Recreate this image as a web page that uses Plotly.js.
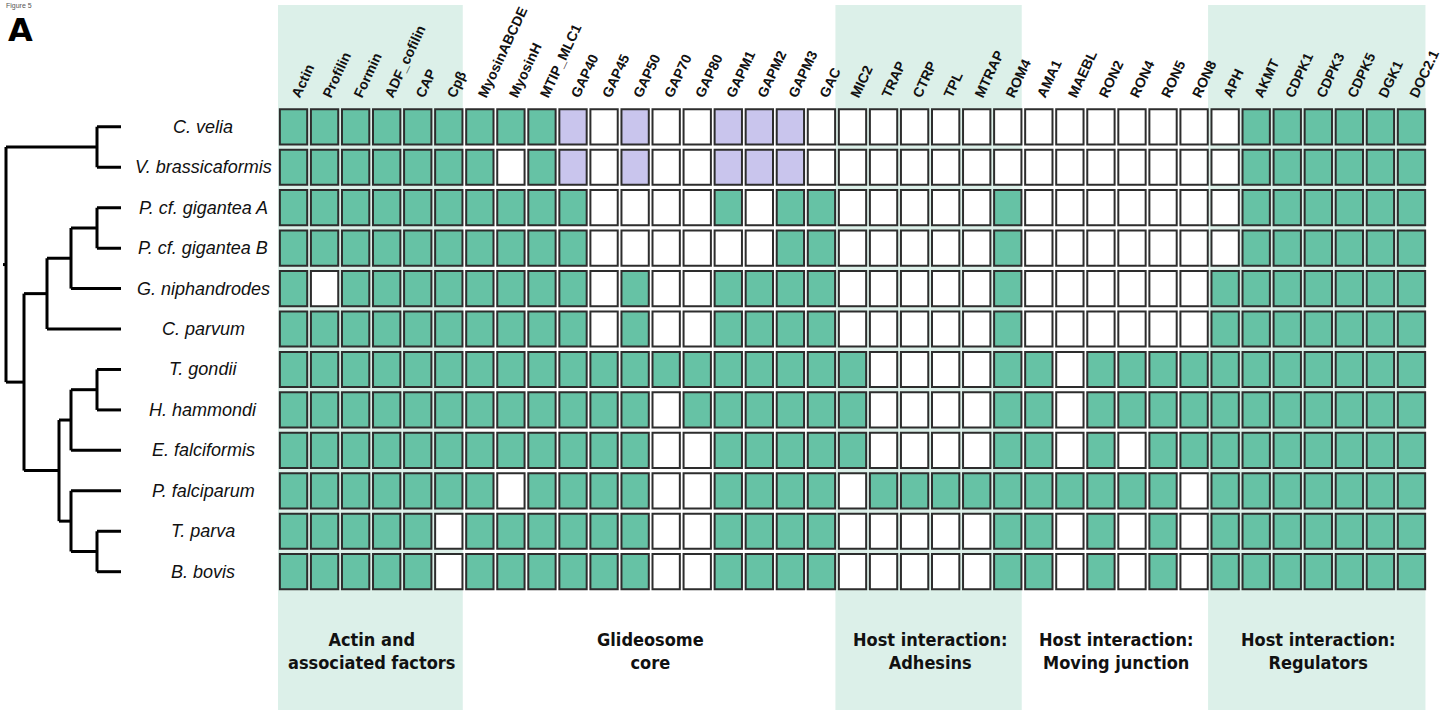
<!DOCTYPE html>
<html>
<head>
<meta charset="utf-8">
<script src="https://cdn.plot.ly/plotly-3.0.1.min.js"></script>
<style>html,body{margin:0;padding:0;background:#fff;}#chart{width:1445px;height:710px;}</style>
</head>
<body>
<div id="chart"></div>
<script>
// ---------------- DATA ----------------
const genes = ["Actin","Profilin","Formin","ADF_cofilin","CAP","Cpβ",
  "MyosinABCDE","MyosinH","MTIP_MLC1","GAP40","GAP45","GAP50","GAP70","GAP80","GAPM1","GAPM2","GAPM3","GAC",
  "MIC2","TRAP","CTRP","TPL","MTRAP","ROM4",
  "AMA1","MAEBL","RON2","RON4","RON5","RON8",
  "APH","AKMT","CDPK1","CDPK3","CDPK5","DGK1","DOC2.1"];

const species = ["C. velia","V. brassicaformis","P. cf. gigantea A","P. cf. gigantea B","G. niphandrodes",
  "C. parvum","T. gondii","H. hammondi","E. falciformis","P. falciparum","T. parva","B. bovis"];

// 1 = present, 0 = absent, 2 = divergent homologue (purple)
const cVelia      = [1,1,1,1,1,1, 1,1,1,2,0,2,0,0,2,2,2,0, 0,0,0,0,0,0, 0,0,0,0,0,0, 0,1,1,1,1,1,1];
const vBrassica   = [1,1,1,1,1,1, 1,0,1,2,0,2,0,0,2,2,2,0, 0,0,0,0,0,0, 0,0,0,0,0,0, 0,1,1,1,1,1,1];
const pGiganteaA  = [1,1,1,1,1,1, 1,1,1,1,0,0,0,0,1,0,1,1, 0,0,0,0,0,1, 0,0,0,0,0,0, 0,1,1,1,1,1,1];
const pGiganteaB  = [1,1,1,1,1,1, 1,1,1,1,0,0,0,0,0,0,1,1, 0,0,0,0,0,1, 0,0,0,0,0,0, 0,1,1,1,1,1,1];
const gNiphand    = [1,0,1,1,1,1, 1,1,1,1,0,1,0,0,1,1,1,1, 0,0,0,0,0,1, 0,0,0,0,0,0, 1,1,1,1,1,1,1];
const cParvum     = [1,1,1,1,1,1, 1,1,1,1,0,1,0,0,1,1,1,1, 0,0,0,0,0,1, 0,0,0,0,0,0, 1,1,1,1,1,1,1];
const tGondii     = [1,1,1,1,1,1, 1,1,1,1,1,1,1,1,1,1,1,1, 1,0,0,0,0,1, 1,0,1,1,1,1, 1,1,1,1,1,1,1];
const hHammondi   = [1,1,1,1,1,1, 1,1,1,1,1,1,0,1,1,1,1,1, 1,0,0,0,0,1, 1,0,1,1,1,1, 1,1,1,1,1,1,1];
const eFalciformis= [1,1,1,1,1,1, 1,1,1,1,1,1,0,0,1,1,1,1, 1,0,0,0,0,1, 1,0,1,0,1,1, 1,1,1,1,1,1,1];
const pFalciparum = [1,1,1,1,1,1, 1,0,1,1,1,1,0,0,1,1,1,1, 0,1,1,1,1,1, 1,1,1,1,1,0, 1,1,1,1,1,1,1];
const tParva      = [1,1,1,1,1,0, 1,1,1,1,1,1,0,0,1,1,1,1, 0,0,0,0,0,1, 1,0,1,0,1,0, 1,1,1,1,1,1,1];
const bBovis      = [1,1,1,1,1,0, 1,1,1,1,1,1,0,0,1,1,1,1, 0,0,0,0,0,1, 1,0,1,0,1,0, 1,1,1,1,1,1,1];
const matrix = [cVelia,vBrassica,pGiganteaA,pGiganteaB,gNiphand,cParvum,tGondii,hHammondi,eFalciformis,pFalciparum,tParva,bBovis];

const groupLabels = ["Actin and<br>associated factors","Glideosome<br>core","Host interaction:<br>Adhesins",
  "Host interaction:<br>Moving junction","Host interaction:<br>Regulators"];
const groupSizes = [6,12,6,6,7];
const groupShaded = [true,false,true,false,true];

// cladogram: internal nodes [id, depth, children]; leaves are species names
const leafDepth = 121;
const treeNodes = [
  ["root",  6,  ["nVit","nMain"]],
  ["nVit",  97, ["C. velia","V. brassicaformis"]],
  ["nMain", 24, ["nCryp","nApic"]],
  ["nCryp", 47, ["nGreg","C. parvum"]],
  ["nGreg", 71, ["nPcf","G. niphandrodes"]],
  ["nPcf",  97, ["P. cf. gigantea A","P. cf. gigantea B"]],
  ["nApic", 59, ["nCocc","nHaem"]],
  ["nCocc", 71, ["nTgHh","E. falciformis"]],
  ["nTgHh", 97, ["T. gondii","H. hammondi"]],
  ["nHaem", 71, ["P. falciparum","nPiro"]],
  ["nPiro", 97, ["T. parva","B. bovis"]]
];
const rootStem = 3;

// ---------------- STYLE ----------------
const GREEN = "#66c2a5", PURPLE = "#c9c5ed", WHITE = "#ffffff", SHADE = "#dcf0e9", EDGE = "#2d2d2d";
const fillFor = v => v === 1 ? GREEN : (v === 2 ? PURPLE : WHITE);

// ---------------- BUILD ----------------
const shapes = [];
const annotations = [];

// group shading + labels
let start = 0;
groupSizes.forEach((n, g) => {
  const s = start, e = start + n - 1;
  if (groupShaded[g]) {
    shapes.push({type:"rect", xref:"x", yref:"paper", x0:s-0.55, x1:e+0.45, y0:0, y1:0.993,
      fillcolor:SHADE, line:{width:0}, layer:"below"});
  }
  annotations.push({xref:"x", yref:"paper", x:(s+e)/2, y:0.083, text:groupLabels[g], showarrow:false,
    xanchor:"center", yanchor:"middle", align:"center",
    font:{family:"Liberation Sans Narrow, DejaVu Sans Condensed, Arial Narrow, sans-serif", size:18, weight:"bold", color:"#111"}});
  start += n;
});

// cells
matrix.forEach((row, r) => {
  row.forEach((v, c) => {
    shapes.push({type:"rect", xref:"x", yref:"y", x0:c-0.44, x1:c+0.44, y0:r-0.435, y1:r+0.435,
      fillcolor:fillFor(v), line:{color:EDGE, width:2}, layer:"above"});
  });
});

// tree
const nodeMap = {};
treeNodes.forEach(n => nodeMap[n[0]] = n);
const pos = {};
function place(id) {
  if (!(id in nodeMap)) { pos[id] = {x:leafDepth, y:species.indexOf(id)}; return pos[id]; }
  const [, depth, kids] = nodeMap[id];
  const ys = kids.map(k => place(k).y);
  pos[id] = {x:depth, y:(Math.min(...ys) + Math.max(...ys)) / 2};
  return pos[id];
}
place("root");
const tx = [], ty = [];
treeNodes.forEach(([id, depth, kids]) => {
  const ys = kids.map(k => pos[k].y);
  tx.push(depth, depth, null); ty.push(Math.min(...ys), Math.max(...ys), null);
  kids.forEach(k => { tx.push(depth, pos[k].x, null); ty.push(pos[k].y, pos[k].y, null); });
});
tx.push(pos.root.x - rootStem, pos.root.x, null); ty.push(pos.root.y, pos.root.y, null);

// species labels
species.forEach((s, r) => {
  annotations.push({xref:"x2", yref:"y", x:203, y:r, text:s, showarrow:false, xanchor:"center", yanchor:"middle",
    font:{family:"Liberation Sans, Arial, sans-serif", size:18, style:"italic", color:"#111"}});
});

// panel letter
annotations.push({xref:"paper", yref:"paper", x:4/1445, y:1, xanchor:"left", yanchor:"top", showarrow:false,
  text:"Figure 5", font:{family:"Liberation Sans, Arial, sans-serif", size:7, color:"#555"}});
annotations.push({xref:"paper", yref:"paper", x:6/1445, y:1-9/710, xanchor:"left", yanchor:"top", showarrow:false,
  text:"<b>A</b>", font:{family:"DejaVu Sans, Liberation Sans, sans-serif", size:32, color:"#000"}});

const traces = [
  {type:"scatter", mode:"lines", x:tx, y:ty, xaxis:"x2", yaxis:"y",
   line:{color:"#000", width:3}, hoverinfo:"skip", showlegend:false},
  {type:"scatter", mode:"markers", xaxis:"x", yaxis:"y",
   x:matrix.flatMap(row => row.map((v,c) => c)), y:matrix.flatMap((row,r) => row.map(() => r)),
   text:matrix.flatMap((row,r) => row.map((v,c) => species[r] + " – " + genes[c] + ": " + (v===1?"present":v===2?"divergent":"absent"))),
   hoverinfo:"text", marker:{opacity:0, size:20}, showlegend:false}
];

const layout = {
  width:1445, height:710, margin:{l:0,r:0,t:0,b:0},
  paper_bgcolor:"#fff", plot_bgcolor:"rgba(0,0,0,0)", showlegend:false,
  xaxis:{domain:[278/1445, 1427/1445], range:[-0.5, 36.5], side:"top", anchor:"y",
    tickmode:"array", tickvals:genes.map((g,i)=>i), ticktext:genes, tickangle:-65, ticks:"",
    tickfont:{family:"Liberation Sans, Arial, sans-serif", size:14, weight:"bold", color:"#111"},
    showgrid:false, zeroline:false, showline:false, fixedrange:true},
  yaxis:{domain:[0.1663, 0.8499], range:[11.5, -0.5], showticklabels:false, ticks:"",
    showgrid:false, zeroline:false, showline:false, fixedrange:true},
  xaxis2:{domain:[0, 278/1445], range:[0, 278], anchor:"y", visible:false, fixedrange:true},
  shapes:shapes, annotations:annotations
};

Plotly.newPlot("chart", traces, layout, {displayModeBar:false, staticPlot:false});
</script>
</body>
</html>
